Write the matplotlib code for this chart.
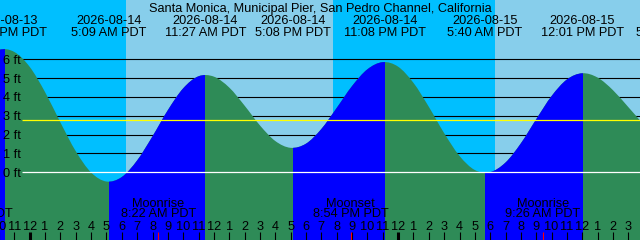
import numpy as np
import pandas as pd
import matplotlib
matplotlib.use("Agg")
import matplotlib.pyplot as plt
from matplotlib.path import Path
from matplotlib.patches import PathPatch, Rectangle

plt.rcParams['font.family'] = ['Liberation Sans', 'DejaVu Sans']

# ---------------- data ----------------
title = "Santa Monica, Municipal Pier, San Pedro Channel, California"
ref_time = pd.Timestamp("2026-08-14 00:00")

# high / low tide events (time labels across the top)
tide_times = ["2026-08-13 22:24", "2026-08-14 05:09", "2026-08-14 11:27",
              "2026-08-14 17:08", "2026-08-14 23:08", "2026-08-15 05:40",
              "2026-08-15 12:01", "2026-08-15 17:59"]
tide_kinds = ["high", "low", "high", "low", "high", "low", "high", "low"]

# hourly water level (ft), starting at 2026-08-13 21:00
hourly_start = "2026-08-13 21:00"
hourly_ft = [5.86, 6.50, 6.39, 5.60, 4.26, 2.65, 1.12, -0.01, -0.49, -0.25,
             0.63, 1.91, 3.30, 4.46, 5.10, 5.08, 4.50, 3.54, 2.49, 1.66,
             1.30, 1.52, 2.30, 3.42, 4.58, 5.47, 5.85, 5.61, 4.75, 3.48,
             2.08, 0.87, 0.12, 0.01, 0.52, 1.54, 2.82, 4.05, 4.93, 5.26,
             5.03, 4.36, 3.46, 2.56, 1.90]

# sunrise / sunset (day-night background)
sun_times = ["2026-08-14 06:16", "2026-08-14 19:44", "2026-08-15 06:19"]
sun_kinds = ["sunrise", "sunset", "sunrise"]

# moon events
moon_times = ["2026-08-13 20:24", "2026-08-14 08:22", "2026-08-14 20:54",
              "2026-08-15 09:26"]
moon_kinds = ["Moonset", "Moonrise", "Moonset", "Moonrise"]

depth_ft = [0, 1, 2, 3, 4, 5, 6]
msl_ft = 2.76

# ---------------- colours ----------------
C_DAY = "#87CEEB"
C_NIGHT = "#00BFFF"
C_FLOOD = "#0000FF"
C_EBB = "#2E8B57"

# ---------------- geometry (pixels) ----------------
W, H = 640, 240
X0, PPH = 29.7, 15.35      # pixel of midnight 08-14, pixels per hour
Y0, PPF = 172.3, 18.83     # pixel of 0 ft, pixels per foot


def hrs(s):
    return (pd.Timestamp(s) - ref_time) / pd.Timedelta(hours=1)


def tx(px):
    return (px - X0) / PPH


def fy(py):
    return (Y0 - py) / PPF


def fmt_time(ts):
    ts = pd.Timestamp(ts)
    h12 = ts.hour % 12 or 12
    return f"{h12}:{ts.minute:02d} {'AM' if ts.hour < 12 else 'PM'} PDT"


xmin, xmax = tx(0), tx(W)
ymin, ymax = fy(H), fy(0)

fig = plt.figure(figsize=(W / 100, H / 100), dpi=100)
ax = fig.add_axes([0, 0, 1, 1])
ax.set_xlim(xmin, xmax)
ax.set_ylim(ymin, ymax)
ax.axis('off')

FS = 9.2

# background day / night
sun_t = [hrs(s) for s in sun_times]
edges = [xmin] + sun_t + [xmax]
state_night = sun_kinds[0] == "sunrise"
for a, b in zip(edges[:-1], edges[1:]):
    ax.axvspan(a, b, color=C_NIGHT if state_night else C_DAY, lw=0, zorder=0)
    state_night = not state_night

# depth lines (behind water)
for d in depth_ft:
    if d == 0:
        continue
    ax.plot([tx(22), xmax], [d, d], color="black", lw=0.8, zorder=1,
            solid_capstyle='butt')

# water curve as a smooth path through hourly readings
t0 = hrs(hourly_start)
ht = np.array([t0 + i for i in range(len(hourly_ft))], dtype=float)
hv = np.array(hourly_ft, dtype=float)
verts = [(ht[1], hv[1])]
codes = [Path.MOVETO]
for i in range(1, len(ht) - 2):
    p0 = np.array([ht[i - 1], hv[i - 1]])
    p1 = np.array([ht[i], hv[i]])
    p2 = np.array([ht[i + 1], hv[i + 1]])
    p3 = np.array([ht[i + 2], hv[i + 2]])
    c1 = p1 + (p2 - p0) / 6
    c2 = p2 - (p3 - p1) / 6
    verts += [tuple(c1), tuple(c2), tuple(p2)]
    codes += [Path.CURVE4] * 3
bottom = ymin - 5
verts += [(ht[-2], bottom), (ht[1], bottom), (ht[1], hv[1])]
codes += [Path.LINETO, Path.LINETO, Path.CLOSEPOLY]
wpath = Path(verts, codes)

ebb = PathPatch(wpath, facecolor=C_EBB, edgecolor='none', zorder=2)
ax.add_patch(ebb)

tide_t = [hrs(s) for s in tide_times]
bounds = [xmin - 5] + tide_t + [xmax + 5]
kinds_next = tide_kinds + ["x"]
for k, (a, b) in enumerate(zip(bounds[:-1], bounds[1:])):
    rising = kinds_next[k] == "high"
    if rising:
        p = PathPatch(wpath, facecolor=C_FLOOD, edgecolor='none', zorder=3)
        ax.add_patch(p)
        r = Rectangle((a, bottom), b - a, ymax - bottom + 5,
                      transform=ax.transData)
        p.set_clip_path(r)

# MSL and datum lines over water
ax.plot([tx(22), xmax], [msl_ft, msl_ft], color="yellow", lw=0.9, zorder=4,
        solid_capstyle='butt')
ax.plot([tx(22), xmax], [0, 0], color="white", lw=0.9, zorder=4,
        solid_capstyle='butt')

# depth labels
for d in depth_ft:
    ax.text(tx(2.5), fy(Y0 - d * PPF + 4.5), f"{d} ft", fontsize=FS,
            ha='left', va='baseline', zorder=6)

# title and tide event labels
ax.text(tx(320), fy(11.7), title, fontsize=FS, ha='center', va='baseline',
        zorder=6)
for s, t in zip(tide_times, tide_t):
    ax.text(t, fy(24), pd.Timestamp(s).strftime("%Y-%m-%d"), fontsize=FS,
            ha='center', va='baseline', zorder=6)
    ax.text(t, fy(36), fmt_time(s), fontsize=FS, ha='center',
            va='baseline', zorder=6)

# moon events
for s, k in zip(moon_times, moon_kinds):
    t = hrs(s)
    ax.text(t, fy(206.7), k, fontsize=FS, ha='center', va='baseline', zorder=6)
    ax.text(t, fy(217.3), fmt_time(s), fontsize=FS, ha='center',
            va='baseline', zorder=6)

# hour ticks and labels
for h in range(int(np.floor(xmin)), int(np.ceil(xmax)) + 1):
    hh = h % 24
    lab = str(hh % 12 or 12)
    ax.text(h, fy(230), lab, fontsize=FS, ha='center', va='baseline',
            zorder=6)
    ax.plot([h, h], [fy(231.5), fy(241)], color='black',
            lw=2.2 if hh == 0 else 0.8, zorder=6, solid_capstyle='butt')

for s in moon_times:
    t = hrs(s)
    ax.plot([t, t], [fy(231.5), fy(241)], color='red', lw=0.8, zorder=7,
            solid_capstyle='butt')

fig.savefig("out.png", dpi=100)
